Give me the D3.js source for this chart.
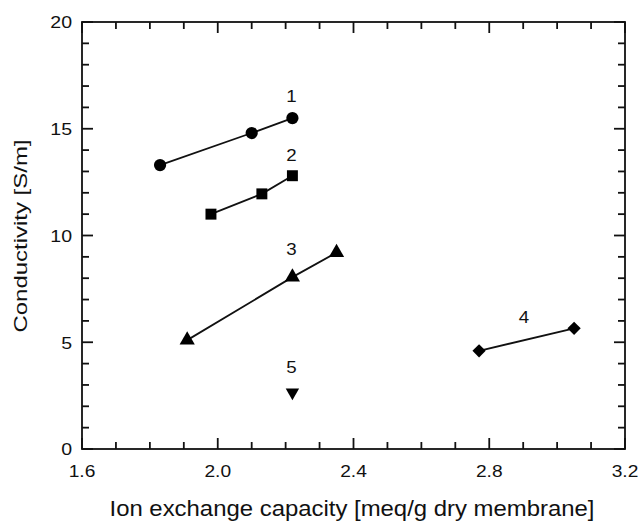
<!DOCTYPE html>
<html><head><meta charset="utf-8">
<script src="https://cdn.jsdelivr.net/npm/d3@7"></script>
<style>body{margin:0;background:#fff}svg{display:block}text{font-family:"Liberation Sans",Arial,sans-serif;fill:#111}</style>
</head><body><svg id="c" width="643" height="522"></svg>
<script>
const s1x=[1.83,2.10,2.22], s1y=[13.3,14.8,15.5];
const s2x=[1.98,2.13,2.22], s2y=[11.0,11.95,12.8];
const s3x=[1.91,2.22,2.35], s3y=[5.1,8.05,9.2];
const s4x=[2.77,3.05], s4y=[4.6,5.65];
const s5x=[2.22], s5y=[2.65];
const seriesNames=["1","2","3","4","5"];
const labelX=[2.22,2.22,2.22,2.905,2.22], labelY=[16.55,13.75,9.35,6.2,3.85];
const xTicks=[1.6,2.0,2.4,2.8,3.2], yTicks=[0,5,10,15,20];

const svg=d3.select("#c");
const L=82,R=625,T=22,B=449;
const x=d3.scaleLinear().domain([1.6,3.2]).range([L,R]);
const y=d3.scaleLinear().domain([0,20]).range([B,T]);
const g=svg.append("g");
const minorX=d3.range(17).map(i=>1.6+i*0.1);
const minorY=d3.range(21);
const sw=1.8;
g.append("rect").attr("x",L).attr("y",T).attr("width",R-L).attr("height",B-T).attr("fill","none").attr("stroke","#111").attr("stroke-width",sw);
minorX.forEach((v,i)=>{const len=(i%4===0)?11:7;const px=x(v);
 g.append("line").attr("x1",px).attr("x2",px).attr("y1",B).attr("y2",B-len).attr("stroke","#111").attr("stroke-width",sw);
 g.append("line").attr("x1",px).attr("x2",px).attr("y1",T).attr("y2",T+len).attr("stroke","#111").attr("stroke-width",sw);});
minorY.forEach((v,i)=>{const len=(i%5===0)?11:7;const py=y(v);
 g.append("line").attr("x1",L).attr("x2",L+len).attr("y1",py).attr("y2",py).attr("stroke","#111").attr("stroke-width",sw);
 g.append("line").attr("x1",R).attr("x2",R-len).attr("y1",py).attr("y2",py).attr("stroke","#111").attr("stroke-width",sw);});
xTicks.forEach(v=>g.append("text").attr("transform",`translate(${x(v)},${B+28}) scale(1.13,1)`).attr("text-anchor","middle").attr("font-size",17).text(v.toFixed(1)));
yTicks.forEach(v=>g.append("text").attr("transform",`translate(${L-10},${y(v)+6.3}) scale(1.15,1)`).attr("text-anchor","end").attr("font-size",17).text(v));
g.append("text").attr("x",352).attr("y",516).attr("text-anchor","middle").attr("font-size",21.5).attr("textLength",485).attr("lengthAdjust","spacingAndGlyphs").text("Ion exchange capacity [meq/g dry membrane]");
g.append("text").attr("transform",`translate(27,236) rotate(-90)`).attr("text-anchor","middle").attr("font-size",19).attr("textLength",193).attr("lengthAdjust","spacingAndGlyphs").text("Conductivity [S/m]");

const series=[[s1x,s1y,d3.symbolCircle,118],[s2x,s2y,d3.symbolSquare,120],[s3x,s3y,d3.symbolTriangle,100],[s4x,s4y,d3.symbolSquare,88],[s5x,s5y,d3.symbolTriangle,78]];
const line=d3.line().x(d=>x(d[0])).y(d=>y(d[1]));
series.forEach(([xs,ys,sym,size],k)=>{
 const pts=xs.map((v,i)=>[v,ys[i]]);
 if(pts.length>1) g.append("path").attr("d",line(pts)).attr("fill","none").attr("stroke","#111").attr("stroke-width",1.8);
 pts.forEach(p=>{
  let tr=`translate(${x(p[0])},${y(p[1])})`;
  if(k===4) tr+=" rotate(180)";
  if(k===3) tr+=" rotate(45)";
  g.append("path").attr("d",d3.symbol().type(sym).size(size)()).attr("transform",tr).attr("fill","#000");
 });
 g.append("text").attr("transform",`translate(${x(labelX[k])-1},${y(labelY[k])+6}) scale(1.1,1)`).attr("text-anchor","middle").attr("font-size",17).text(seriesNames[k]);
});
</script></body></html>
